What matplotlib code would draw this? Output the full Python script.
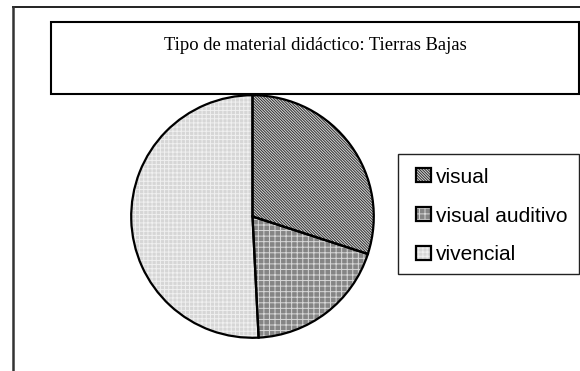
import matplotlib
matplotlib.use("Agg")
import matplotlib.pyplot as plt
from matplotlib.patches import Rectangle, Patch
from matplotlib.lines import Line2D

# Data
categories = ["visual", "visual auditivo", "vivencial"]
values = [30.0, 19.2, 50.8]
title_text = "Tipo de material didáctico: Tierras Bajas"

face_colors = ["#d8d8d8", "#858585", "#d6d6d6"]
hatch_colors = ["#303030", "#d8d8d8", "#f0f0f0"]
hatches = ["\\" * 12, "+++", "++++"]

W, H = 580, 371
fig = plt.figure(figsize=(W / 100, H / 100), dpi=100)
plt.rcParams['hatch.linewidth'] = 0.7

def fx(x):
    return x / W

def fy(y):
    return 1 - y / H

# outer frame lines
fig.add_artist(Line2D([fx(12.5), fx(580)], [fy(7), fy(7)], color="#222222", lw=1.4))
fig.add_artist(Line2D([fx(12.5), fx(12.5)], [fy(7), fy(371)], color="#333333", lw=1.8))

# title box
fig.add_artist(Rectangle((fx(51), fy(93.5)), fx(579) - fx(51), fy(22) - fy(93.5),
                         transform=fig.transFigure, fill=False, edgecolor="black", lw=1.5))
fig.text(fx(315), fy(46), title_text, ha="center", va="center",
         family="Liberation Serif", fontsize=13.4)

# pie
cx, cy, r = 252.5, 216.5, 122.5
ax = fig.add_axes([fx(cx - r), fy(cy + r), 2 * r / W, 2 * r / H])
wedges_fill, _ = ax.pie(values, startangle=90, counterclock=False, radius=1)
for w, fc, hc, hp in zip(wedges_fill, face_colors, hatch_colors, hatches):
    w.set_facecolor(fc)
    w.set_edgecolor(hc)
    w.set_linewidth(0)
    w.set_hatch(hp)
wedges_line, _ = ax.pie(values, startangle=90, counterclock=False, radius=1,
                        wedgeprops=dict(facecolor="none", edgecolor="black", linewidth=1.6))
ax.set_xlim(-1.01, 1.01)
ax.set_ylim(-1.01, 1.01)
ax.set_aspect("equal", adjustable="box")
ax.axis("off")

# legend box
fig.add_artist(Rectangle((fx(397.5), fy(273.5)), fx(579) - fx(397.5), fy(153.5) - fy(273.5),
                         transform=fig.transFigure, fill=False, edgecolor="#222222", lw=1.0))
handles = []
for fc, hc, hp in zip(face_colors, hatch_colors, hatches):
    p1 = Patch(facecolor=fc, edgecolor=hc, hatch=hp, linewidth=0)
    p2 = Patch(facecolor="none", edgecolor="black", linewidth=1.6)
    handles.append((p1, p2))
leg = fig.legend(handles, categories, loc="upper left",
                 bbox_to_anchor=(fx(415.5), fy(167.5)), bbox_transform=fig.transFigure,
                 frameon=False, borderpad=0, borderaxespad=0,
                 prop=dict(family="Liberation Sans", size=15),
                 handlelength=0.72, handleheight=0.62, handletextpad=0.25,
                 labelspacing=0.96)

fig.savefig("out.png", dpi=100)
